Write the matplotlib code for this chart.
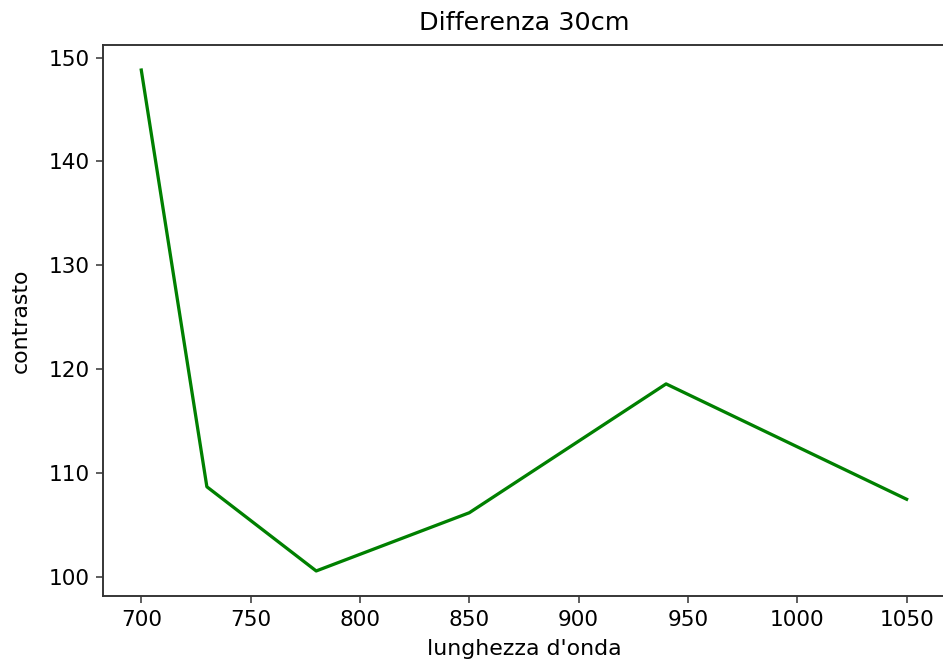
import matplotlib
matplotlib.use("Agg")
import matplotlib.pyplot as plt

wavelength = [700, 730, 780, 850, 940, 1050]
contrast = [148.8, 108.7, 100.6, 106.2, 118.6, 107.5]

fig = plt.figure(figsize=(943/138, 661/138), dpi=138)
ax = fig.add_axes([103/943, 1-596/661, 1-103/943+0.002, (596-45)/661])
ax.plot(wavelength, contrast, color="green", linewidth=1.7)
ax.set_title("Differenza 30cm", fontsize=13.3, pad=8)
ax.set_xlabel("lunghezza d'onda", fontsize=11.5, labelpad=5)
ax.set_ylabel("contrasto", fontsize=11.5, labelpad=9)
ax.tick_params(labelsize=11.3, length=3.6, color="#333333")
for s in ax.spines.values():
    s.set_color("#333333")
    s.set_linewidth(1.0)
fig.savefig("out.png", dpi=138)
